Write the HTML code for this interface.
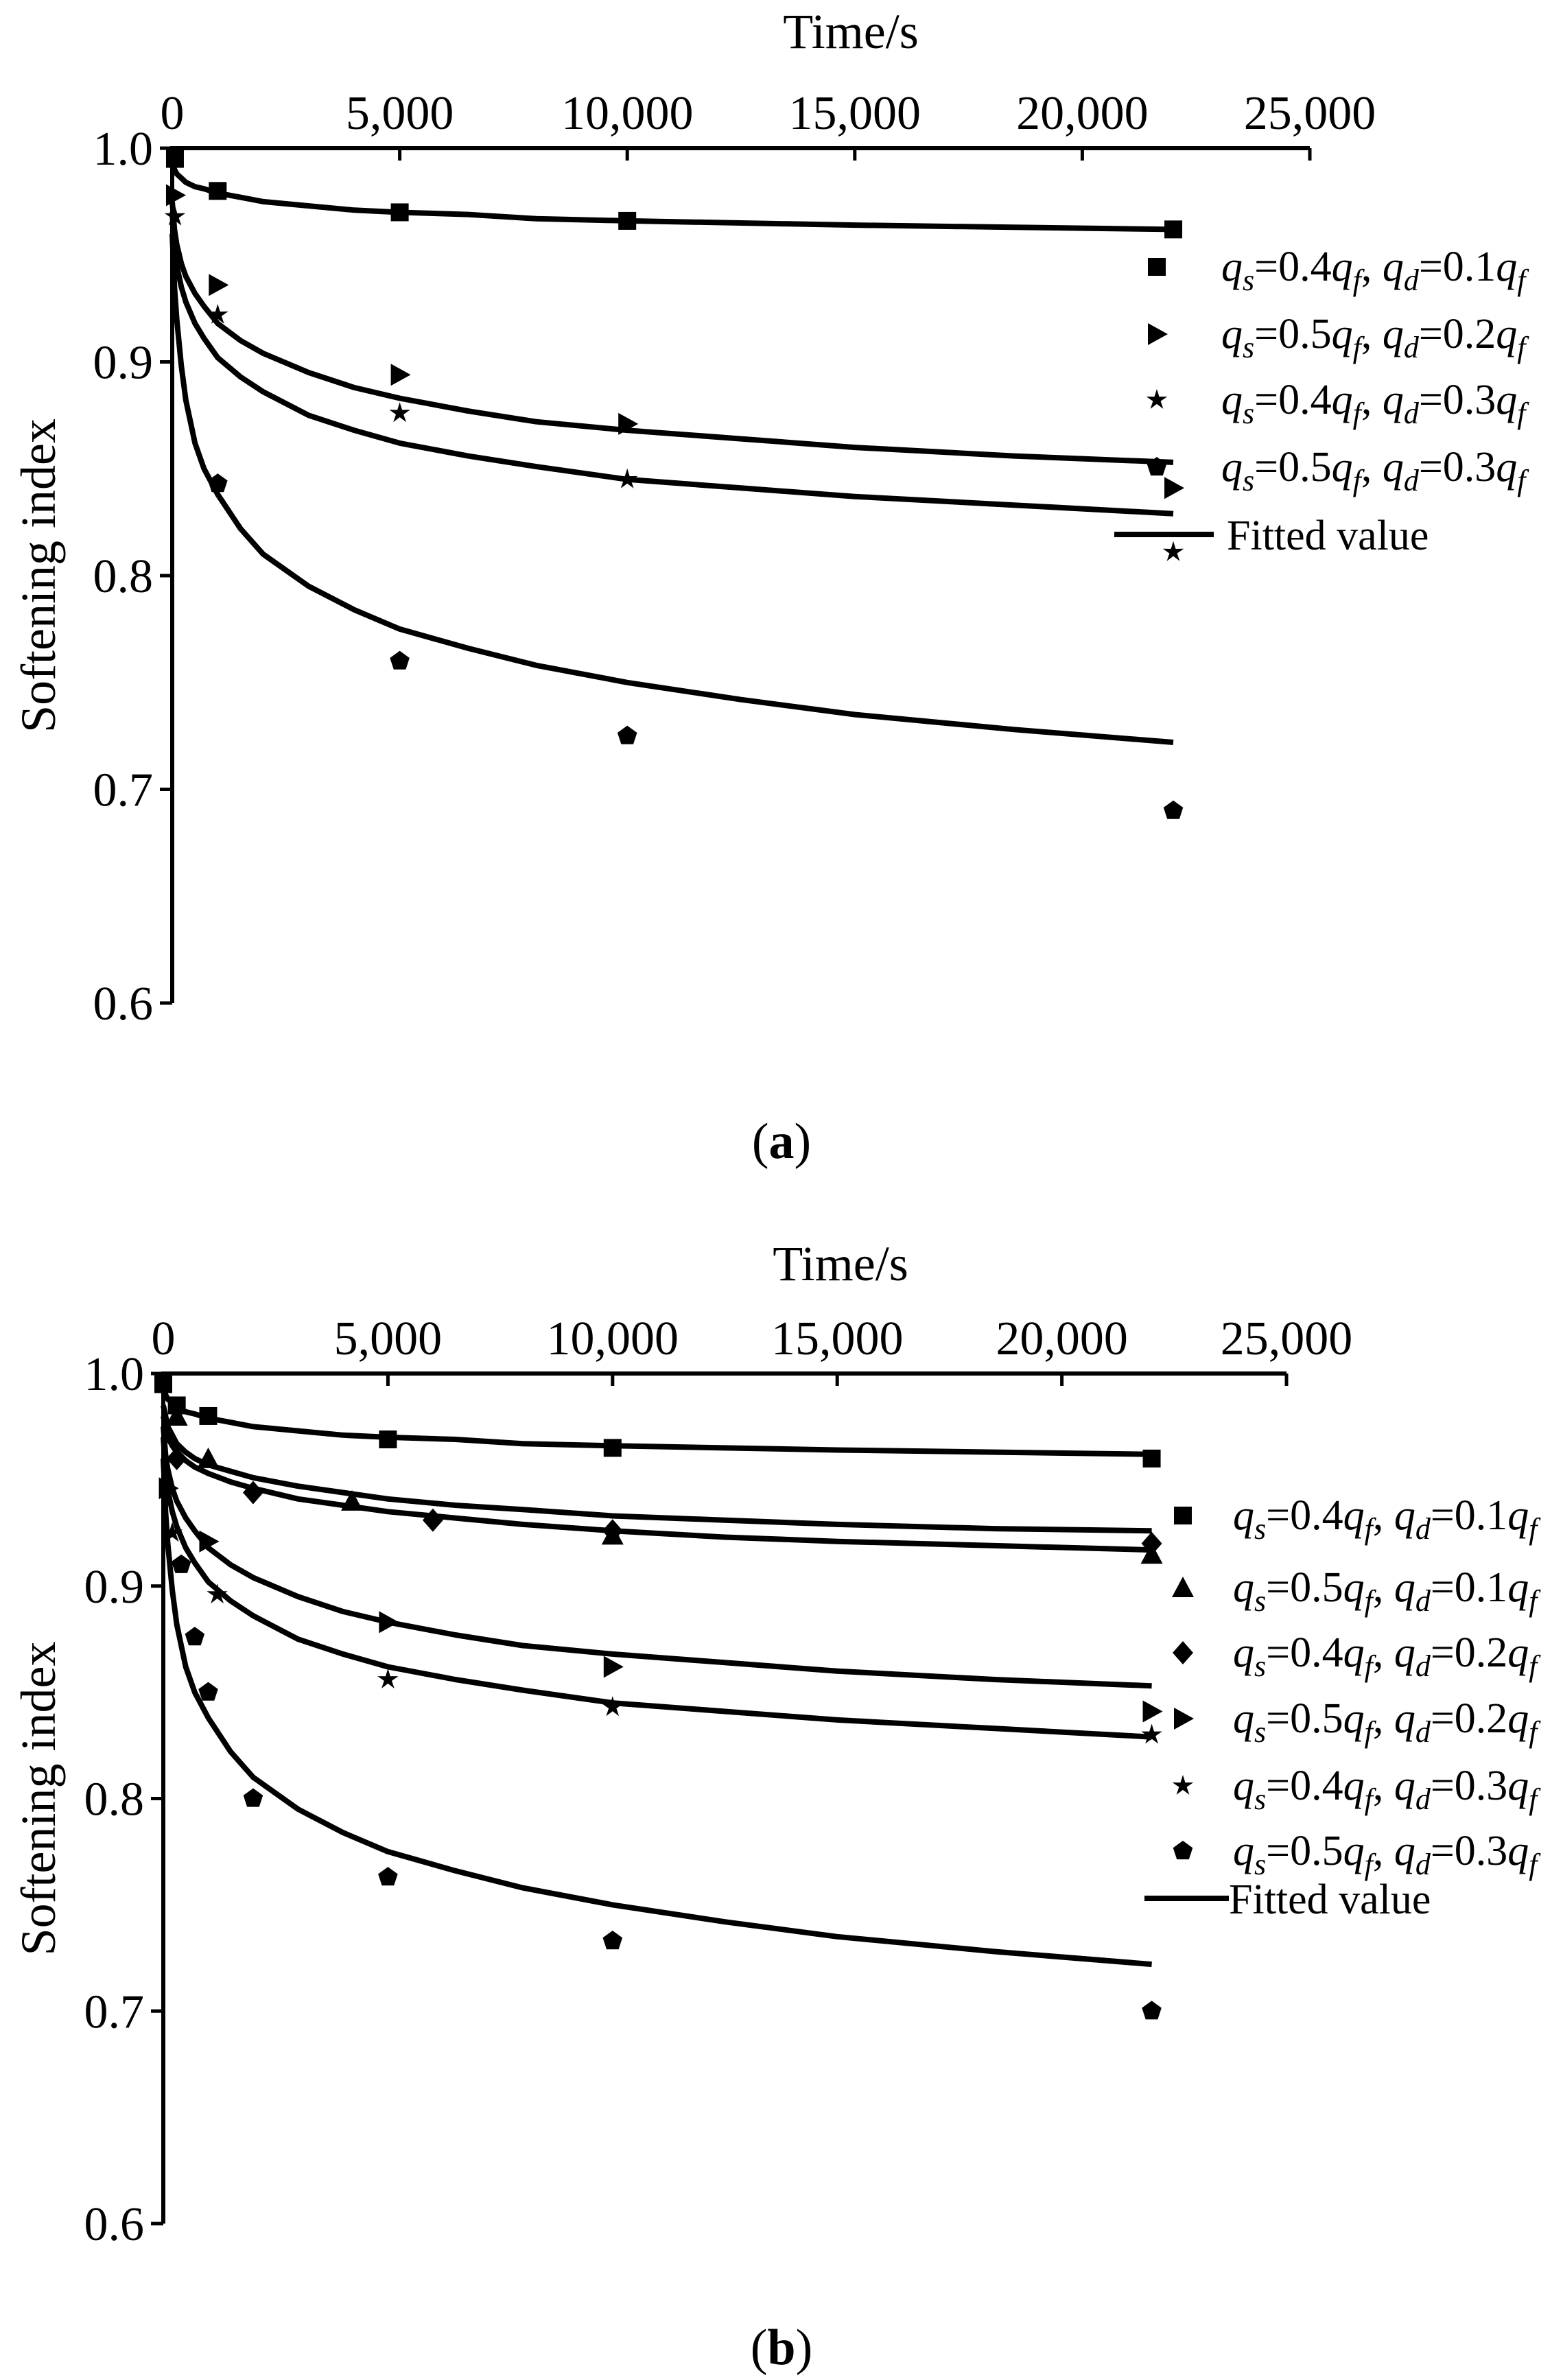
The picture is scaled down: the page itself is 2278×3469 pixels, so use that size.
<!DOCTYPE html>
<html><head><meta charset="utf-8"><style>
html,body{margin:0;padding:0;background:#fff;}
svg{display:block;}
text{font-family:"Liberation Serif","Times New Roman","DejaVu Serif",serif;}
</style></head><body>
<svg id="svg" width="2278" height="3469" viewBox="0 0 2278 3469" xmlns="http://www.w3.org/2000/svg"></svg>
<script>
// ---- shared data ----
const xTicks = [0, 5000, 10000, 15000, 20000, 25000];
const xTickLabels = ["0", "5,000", "10,000", "15,000", "20,000", "25,000"];
const yTicks = [1.0, 0.9, 0.8, 0.7, 0.6];
const yTickLabels = ["1.0", "0.9", "0.8", "0.7", "0.6"];
const fitTimes = [0, 50, 100, 200, 300, 500, 700, 1000, 1500, 2000, 3000, 4000, 5000, 6500, 8000, 10000, 12500, 15000, 18500, 22000];
// fitted curves
const fitA1 = [0.995, 0.990, 0.988, 0.986, 0.984, 0.982, 0.981, 0.979, 0.977, 0.975, 0.973, 0.971, 0.970, 0.969, 0.967, 0.966, 0.965, 0.964, 0.963, 0.962];
const fitA2 = [0.975, 0.962, 0.955, 0.946, 0.940, 0.932, 0.926, 0.918, 0.910, 0.904, 0.895, 0.888, 0.883, 0.877, 0.872, 0.868, 0.864, 0.860, 0.856, 0.853];
const fitA3 = [0.970, 0.955, 0.945, 0.935, 0.928, 0.918, 0.911, 0.902, 0.893, 0.886, 0.875, 0.868, 0.862, 0.856, 0.851, 0.845, 0.841, 0.837, 0.833, 0.829];
const fitA4 = [0.960, 0.935, 0.920, 0.898, 0.882, 0.862, 0.850, 0.838, 0.822, 0.810, 0.795, 0.784, 0.775, 0.766, 0.758, 0.750, 0.742, 0.735, 0.728, 0.722];
const fitB2 = [0.985, 0.980, 0.975, 0.971, 0.967, 0.963, 0.960, 0.957, 0.954, 0.951, 0.947, 0.944, 0.941, 0.938, 0.936, 0.933, 0.931, 0.929, 0.927, 0.926];
const fitB3 = [0.980, 0.975, 0.970, 0.966, 0.963, 0.959, 0.956, 0.953, 0.949, 0.946, 0.941, 0.938, 0.935, 0.932, 0.929, 0.926, 0.923, 0.921, 0.919, 0.917];
// chart (a) points
const aSqT = [60, 1000, 5000, 10000, 22000];
const aSqV = [0.995, 0.980, 0.970, 0.966, 0.962];
const aTriT = [60, 1000, 5000, 10000, 22000];
const aTriV = [0.978, 0.936, 0.894, 0.871, 0.841];
const aStarT = [60, 1000, 5000, 10000, 22000];
const aStarV = [0.968, 0.922, 0.876, 0.845, 0.811];
const aPentT = [1000, 5000, 10000, 22000];
const aPentV = [0.843, 0.760, 0.725, 0.690];
// chart (b) points
const bSqT = [0, 300, 1000, 5000, 10000, 22000];
const bSqV = [0.995, 0.985, 0.980, 0.969, 0.965, 0.960];
const bUpT = [300, 1000, 4200, 10000, 22000];
const bUpV = [0.980, 0.960, 0.940, 0.924, 0.915];
const bDiaT = [300, 2000, 6000, 10000, 22000];
const bDiaV = [0.960, 0.944, 0.931, 0.926, 0.920];
const bRtT = [100, 1000, 5000, 10000, 22000];
const bRtV = [0.946, 0.921, 0.883, 0.862, 0.841];
const bStarT = [200, 1200, 5000, 10000, 22000];
const bStarV = [0.925, 0.896, 0.856, 0.843, 0.830];
const bPentT = [400, 700, 1000, 2000, 5000, 10000, 22000];
const bPentV = [0.910, 0.876, 0.850, 0.800, 0.763, 0.733, 0.700];

const NS = "http://www.w3.org/2000/svg";
const svg = document.getElementById('svg');
function mk(tag, attrs, parent, text) {
  const e = document.createElementNS(NS, tag);
  for (const k in attrs) e.setAttribute(k, attrs[k]);
  if (text !== undefined) e.textContent = text;
  (parent || svg).appendChild(e);
  return e;
}

function marker(g, type, cx, cy) {
  const s = 14;
  let el;
  if (type === 'sq') el = mk('rect', {x: cx - s + 1, y: cy - s + 1, width: 2 * s - 2, height: 2 * s - 2, fill: '#000'}, g);
  else if (type === 'up') el = mk('polygon', {points: `${cx},${cy - s - 2} ${cx + s + 2},${cy + s} ${cx - s - 2},${cy + s}`, fill: '#000'}, g);
  else if (type === 'dia') el = mk('polygon', {points: `${cx},${cy - s - 3} ${cx + s + 1},${cy} ${cx},${cy + s + 3} ${cx - s - 1},${cy}`, fill: '#000'}, g);
  else if (type === 'rt') el = mk('polygon', {points: `${cx - s + 1},${cy - s - 2} ${cx + s + 2},${cy} ${cx - s + 1},${cy + s + 2}`, fill: '#000'}, g);
  else if (type === 'star') {
    let p = [];
    for (let i = 0; i < 10; i++) {
      const r = i % 2 ? s * 0.42 : s + 2;
      const a = -Math.PI / 2 + i * Math.PI / 5;
      p.push((cx + r * Math.cos(a)).toFixed(1) + ',' + (cy + r * Math.sin(a)).toFixed(1));
    }
    el = mk('polygon', {points: p.join(' '), fill: '#000'}, g);
  } else {
    let p = [];
    for (let i = 0; i < 5; i++) {
      const a = -Math.PI / 2 + i * 2 * Math.PI / 5;
      p.push((cx + (s + 1) * Math.cos(a)).toFixed(1) + ',' + (cy + (s + 1) * Math.sin(a)).toFixed(1));
    }
    el = mk('polygon', {points: p.join(' '), fill: '#000'}, g);
  }
  return el;
}

function legendText(g, x, y, qs, qd) {
  const t = mk('text', {x: x, y: y, 'font-size': 62, fill: '#000'}, g);
  const parts = [
    ['q', 'italic', 0], ['s', 'italic', 'sub'], ['=' + qs, 'normal', 0], ['q', 'italic', 0], ['f', 'italic', 'sub'],
    [', ', 'normal', 0], ['q', 'italic', 0], ['d', 'italic', 'sub'], ['=' + qd, 'normal', 0], ['q', 'italic', 0], ['f', 'italic', 'sub']
  ];
  let prevSub = false;
  parts.forEach(p => {
    const ts = mk('tspan', {'font-style': p[1]}, t, p[0]);
    if (p[2] === 'sub') { ts.setAttribute('dy', '14'); ts.setAttribute('font-size', '44'); prevSub = true; }
    else if (prevSub) { ts.setAttribute('dy', '-14'); prevSub = false; }
  });
  return t;
}

function chart(cfg) {
  const g = mk('g', {});
  
  
  const X = t => cfg.x0 + (t / 25000) * (cfg.x1 - cfg.x0);
  const Y = v => cfg.y0 + (1.0 - v) / 0.4 * (cfg.y1 - cfg.y0);
  const xa = mk('line', {x1: X(0), y1: Y(1), x2: X(25000), y2: Y(1), stroke: '#000', 'stroke-width': 6}, g);
  
  
  const ya = mk('line', {x1: X(0), y1: Y(1) - 3, x2: X(0), y2: Y(0.6), stroke: '#000', 'stroke-width': 6}, g);
  
  
  xTicks.forEach((t, i) => {
    mk('line', {x1: X(t), y1: Y(1), x2: X(t), y2: Y(1) + 18, stroke: '#000', 'stroke-width': 5}, g);
    const lb = mk('text', {x: X(t), y: Y(1) - 28, 'font-size': 70, 'text-anchor': 'middle', fill: '#000'}, g, xTickLabels[i]);
    
    
  });
  yTicks.forEach((v, i) => {
    mk('line', {x1: X(0) - 18, y1: Y(v), x2: X(0), y2: Y(v), stroke: '#000', 'stroke-width': 5}, g);
    const lb = mk('text', {x: X(0) - 28, y: Y(v) + 24, 'font-size': 70, 'text-anchor': 'end', fill: '#000'}, g, yTickLabels[i]);
    
    
  });
  const xt = mk('text', {x: cfg.titleX, y: cfg.titleY, 'font-size': 72, 'text-anchor': 'middle', fill: '#000'}, g, 'Time/s');
  
  
  const ym = (cfg.y0 + cfg.y1) / 2;
  const yt = mk('text', {x: 80, y: ym, 'font-size': 72, 'text-anchor': 'middle', fill: '#000', transform: `rotate(-90 80 ${ym})`}, g, 'Softening index');
  
  
  cfg.fits.forEach(vals => {
    const d = fitTimes.map((t, i) => (i ? 'L' : 'M') + X(t).toFixed(1) + ',' + Y(vals[i]).toFixed(1)).join(' ');
    const p = mk('path', {d: d, fill: 'none', stroke: '#000', 'stroke-width': 8, 'stroke-linejoin': 'round'}, g);
    
    
  });
  cfg.series.forEach(s => {
    s.t.forEach((t, i) => {
      const m = marker(g, s.type, X(t), Y(s.v[i]));
      
      
    });
  });
  cfg.legend.forEach((l, i) => {
    const y = cfg.legY[i];
    const m = marker(g, l.type, cfg.legMX, y);
    
    
    const t = legendText(g, cfg.legTX, y + 20, l.qs, l.qd);
    
    
  });
  const fy = cfg.legY[cfg.legend.length];
  const fl = mk('line', {x1: cfg.fitL1, y1: fy, x2: cfg.fitL2, y2: fy, stroke: '#000', 'stroke-width': 8}, g);
  
  
  const ft = mk('text', {x: cfg.fitTX, y: fy + 22, 'font-size': 62, fill: '#000'}, g, 'Fitted value');
  
  
  const cap = mk('text', {x: 1139, y: cfg.capY, 'font-size': 74, 'text-anchor': 'middle', fill: '#000'}, svg);
  mk('tspan', {}, cap, '(');
  mk('tspan', {'font-weight': 'bold'}, cap, cfg.cap);
  mk('tspan', {}, cap, ')');
  
  
}

chart({
  name: 'chart-a', x0: 251, x1: 1909, y0: 216, y1: 1462, titleX: 1240, titleY: 70, cap: 'a', capY: 1688,
  fits: [fitA1, fitA2, fitA3, fitA4],
  series: [
    {type: 'sq', t: aSqT, v: aSqV}, {type: 'rt', t: aTriT, v: aTriV},
    {type: 'star', t: aStarT, v: aStarV}, {type: 'pent', t: aPentT, v: aPentV}
  ],
  legend: [
    {type: 'sq', qs: '0.4', qd: '0.1'}, {type: 'rt', qs: '0.5', qd: '0.2'},
    {type: 'star', qs: '0.4', qd: '0.3'}, {type: 'pent', qs: '0.5', qd: '0.3'}
  ],
  legMX: 1686, legTX: 1780, legY: [389, 487, 583, 681, 779],
  fitL1: 1624, fitL2: 1769, fitTX: 1788
});

chart({
  name: 'chart-b', x0: 238, x1: 1875, y0: 2002, y1: 3241, titleX: 1225, titleY: 1866, cap: 'b', capY: 3446,
  fits: [fitA1, fitB2, fitB3, fitA2, fitA3, fitA4],
  series: [
    {type: 'sq', t: bSqT, v: bSqV}, {type: 'up', t: bUpT, v: bUpV}, {type: 'dia', t: bDiaT, v: bDiaV},
    {type: 'rt', t: bRtT, v: bRtV}, {type: 'star', t: bStarT, v: bStarV}, {type: 'pent', t: bPentT, v: bPentV}
  ],
  legend: [
    {type: 'sq', qs: '0.4', qd: '0.1'}, {type: 'up', qs: '0.5', qd: '0.1'}, {type: 'dia', qs: '0.4', qd: '0.2'},
    {type: 'rt', qs: '0.5', qd: '0.2'}, {type: 'star', qs: '0.4', qd: '0.3'}, {type: 'pent', qs: '0.5', qd: '0.3'}
  ],
  legMX: 1724, legTX: 1797, legY: [2209, 2314, 2409, 2505, 2603, 2698, 2767],
  fitL1: 1668, fitL2: 1791, fitTX: 1791
});
</script>
</body></html>
